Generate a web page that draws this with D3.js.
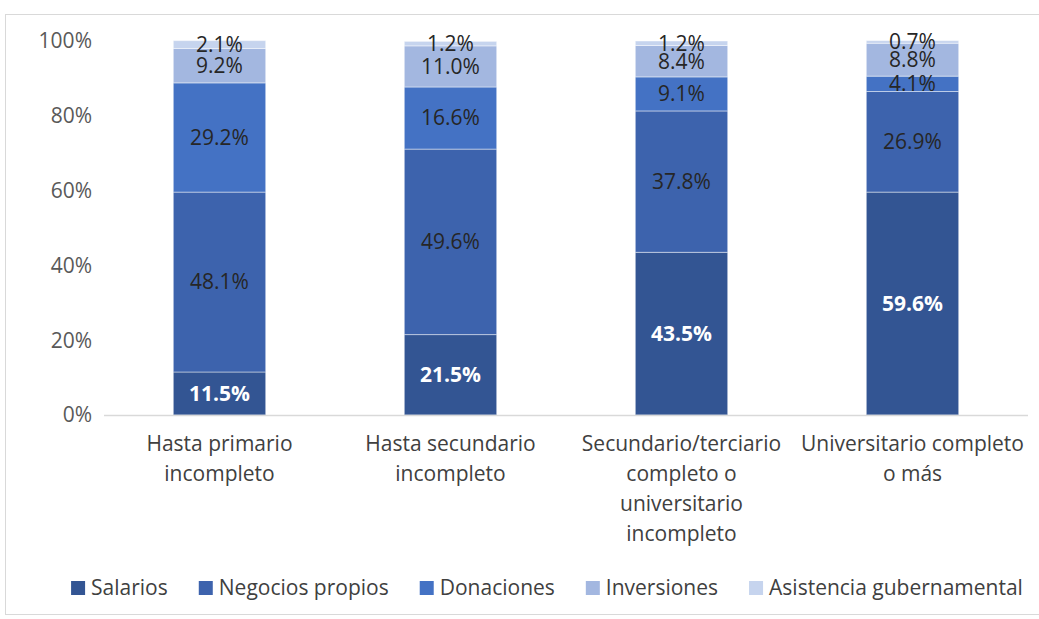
<!DOCTYPE html>
<html>
<head>
<meta charset="utf-8">
<script src="https://cdn.jsdelivr.net/npm/d3@7"></script>
<style>
  body { margin: 0; background: #fff; }
  svg { display: block; font-family: "Open Sans", Lato, sans-serif; }
</style>
</head>
<body>
<svg id="chart" width="1039" height="619"></svg>
<script>
// categorías y series
var categories = [
    ["Hasta primario", "incompleto"],
    ["Hasta secundario", "incompleto"],
    ["Secundario/terciario", "completo o", "universitario", "incompleto"],
    ["Universitario completo", "o más"]
];
var seriesNames = ["Salarios", "Negocios propios", "Donaciones", "Inversiones", "Asistencia gubernamental"];
var salarios = [11.5, 21.5, 43.5, 59.6];
var negocios = [48.1, 49.6, 37.8, 26.9];
var donaciones = [29.2, 16.6, 9.1, 4.1];
var inversiones = [9.2, 11.0, 8.4, 8.8];
var asistencia = [2.1, 1.2, 1.2, 0.7];
var yTicks = [0, 20, 40, 60, 80, 100];

var colors = ["#335593", "#3d63ad", "#4472c4", "#a3b7e0", "#c6d4ee"];
var fontSize = 21;

var svg = d3.select("#chart");
var margin = { left: 104, right: 1028, top: 41, bottom: 415 };

// marco del gráfico
svg.append("rect")
    .attr("x", 5.5).attr("y", 14.5)
    .attr("width", 1050).attr("height", 600)
    .attr("fill", "none").attr("stroke", "#d9d9d9");

var keys = categories.map(function(c, i) { return i; });
var x = d3.scaleBand().domain(keys).range([margin.left, margin.right]).paddingInner(0.6).paddingOuter(0.3);
var y = d3.scaleLinear().domain([0, 100]).range([margin.bottom, margin.top]);

var allSeries = [salarios, negocios, donaciones, inversiones, asistencia];
var rows = keys.map(function(i) {
    var r = { idx: i };
    seriesNames.forEach(function(s, j) { r[s] = allSeries[j][i]; });
    return r;
});
var stacked = d3.stack().keys(seriesNames)(rows);

// eje Y
svg.append("g").selectAll("text")
    .data(yTicks)
    .enter().append("text")
    .attr("x", 92)
    .attr("y", function(d) { return y(d); })
    .attr("dy", "0.35em")
    .attr("text-anchor", "end")
    .attr("font-size", fontSize)
    .attr("fill", "#595959")
    .text(function(d) { return d + "%"; });

// barras
var layer = svg.append("g").selectAll("g")
    .data(stacked)
    .enter().append("g")
    .attr("fill", function(d, i) { return colors[i]; });

layer.selectAll("rect")
    .data(function(d) { return d; })
    .enter().append("rect")
    .attr("x", function(d) { return x(d.data.idx); })
    .attr("y", function(d) { return y(d[1]); })
    .attr("width", x.bandwidth())
    .attr("height", function(d) { return y(d[0]) - y(d[1]); })
    .attr("stroke", "#ffffff")
    .attr("stroke-opacity", 0.45)
    .attr("stroke-width", 1);

// eje X
svg.append("line")
    .attr("x1", margin.left).attr("x2", margin.right)
    .attr("y1", margin.bottom + 0.5).attr("y2", margin.bottom + 0.5)
    .attr("stroke", "#d9d9d9").attr("stroke-width", 1.5);

// etiquetas de datos
stacked.forEach(function(s, i) {
    svg.append("g").selectAll("text")
        .data(s)
        .enter().append("text")
        .attr("x", function(d) { return x(d.data.idx) + x.bandwidth() / 2; })
        .attr("y", function(d) { return (y(d[0]) + y(d[1])) / 2; })
        .attr("dy", "0.35em")
        .attr("text-anchor", "middle")
        .attr("font-size", fontSize)
        .attr("font-weight", i == 0 ? "bold" : "normal")
        .attr("fill", i == 0 ? "#ffffff" : "#262626")
        .text(function(d) { return d.data[s.key].toFixed(1) + "%"; });
});

// etiquetas de categorías
var cat = svg.append("g").selectAll("text")
    .data(categories)
    .enter().append("text")
    .attr("text-anchor", "middle")
    .attr("font-size", fontSize)
    .attr("fill", "#404040");
cat.each(function(lines, i) {
    var t = d3.select(this);
    lines.forEach(function(l, k) {
        t.append("tspan")
            .attr("x", x(i) + x.bandwidth() / 2)
            .attr("y", 444 + k * 30)
            .attr("dy", "0.35em")
            .text(l);
    });
});

// leyenda
var legend = svg.append("g");
var lx = 0;
var gap = 31;
seriesNames.forEach(function(name, i) {
    var g = legend.append("g").attr("transform", "translate(" + lx + ",0)");
    g.append("rect").attr("x", 0).attr("y", -7).attr("width", 14).attr("height", 14).attr("fill", colors[i]);
    var t = g.append("text").attr("x", 20).attr("y", 0).attr("dy", "0.35em")
        .attr("font-size", fontSize).attr("fill", "#404040").text(name);
    lx += 20 + t.node().getComputedTextLength() + gap;
});
var legendWidth = lx - gap;
legend.attr("transform", "translate(" + (547 - legendWidth / 2) + ",588)");
</script>
</body>
</html>
